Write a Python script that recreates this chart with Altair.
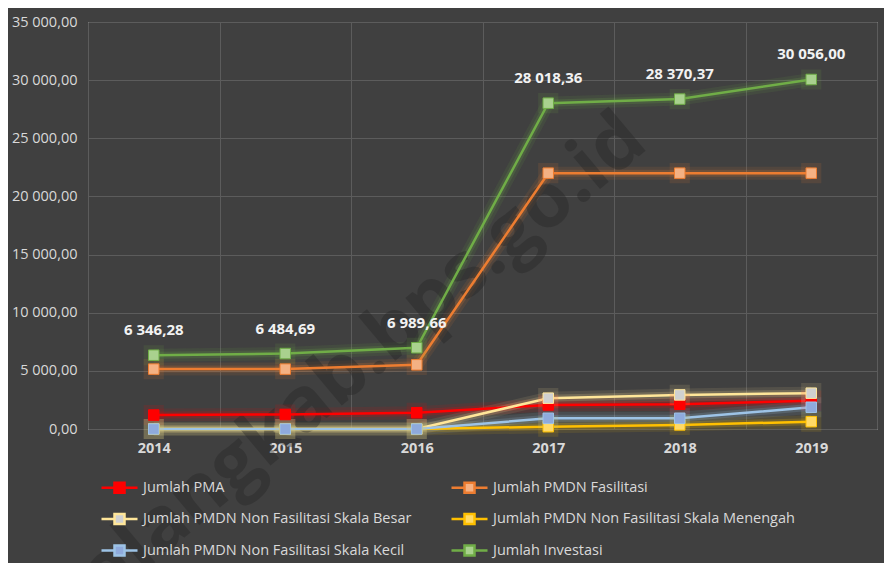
import altair as alt
import pandas as pd

years = ["2014", "2015", "2016", "2017", "2018", "2019"]
series = [
    "Jumlah PMA",
    "Jumlah PMDN Fasilitasi",
    "Jumlah PMDN Non Fasilitasi Skala Besar",
    "Jumlah PMDN Non Fasilitasi Skala Menengah",
    "Jumlah PMDN Non Fasilitasi Skala Kecil",
    "Jumlah Investasi",
]
pma = [1200, 1250, 1400, 2070, 2130, 2440]
pmdn_fasilitasi = [5150, 5150, 5520, 22000, 22000, 22000]
skala_besar = [0, 0, 0, 2650, 2930, 3080]
skala_menengah = [0, 0, 0, 200, 350, 630]
skala_kecil = [0, 0, 0, 920, 920, 1870]
investasi = [6346.28, 6484.69, 6989.66, 28018.36, 28370.37, 30056.00]
y_ticks = [0, 5000, 10000, 15000, 20000, 25000, 30000, 35000]
watermark = ["malangkab.bps.go.id"]

line_colors = ["#FF0000", "#ED7D31", "#FFE699", "#FFC000", "#9DC3E6", "#70AD47"]
marker_colors = ["#FF0000", "#F4B183", "#D0D0D0", "#FFD966", "#8FAADC", "#A9D18E"]

values = [pma, pmdn_fasilitasi, skala_besar, skala_menengah, skala_kecil, investasi]
rows = []
for s, vals in zip(series, values):
    for yr, v in zip(years, vals):
        rows.append({"Seri": s, "Tahun": yr, "Nilai": v})
df = pd.DataFrame(rows)
df_inv = pd.DataFrame({"Tahun": years, "Nilai": investasi})

TXT = "#D9D9D9"
FONT = "Open Sans"

x_enc = alt.X(
    "Tahun:N",
    bandPosition=0.5,
    sort=years,
    scale=alt.Scale(type="band", paddingInner=0, paddingOuter=0, domain=years),
    axis=alt.Axis(
        title=None, labelAngle=0, domain=False, ticks=False, grid=True,
        tickBand="extent", gridColor="#5C5C5C", gridWidth=1,
        labelColor=TXT, labelFont=FONT, labelFontSize=14.5, labelFontWeight="bold",
        labelPadding=12,
    ),
)
y_enc = alt.Y(
    "Nilai:Q",
    scale=alt.Scale(domain=[0, 35000], nice=False),
    axis=alt.Axis(
        title=None, values=y_ticks, format=",.2f", domain=False, ticks=False,
        gridColor="#5C5C5C", gridWidth=1, labelColor=TXT, labelFont=FONT,
        labelFontSize=14.5, labelPadding=11,
    ),
)

stroke_scale = alt.Scale(domain=series, range=line_colors)
fill_scale = alt.Scale(domain=series, range=marker_colors)

legend = alt.Legend(
    title=None, orient="none", legendX=20, legendY=454, columns=2,
    direction="horizontal",
    symbolType="M-1.8,0H-0.5M0.5,0H1.8M-0.5,-0.5H0.5V0.5H-0.5Z",
    symbolSize=400, symbolStrokeWidth=2.5, symbolOpacity=1,
    labelColor=TXT, labelFont=FONT, labelFontSize=14.5, labelLimit=400,
    labelOffset=12, rowPadding=9.5, columnPadding=34,
)

stroke_enc = alt.Stroke("Seri:N", scale=stroke_scale, legend=legend)

base = alt.Chart(df).encode(x=x_enc, y=y_enc)

glow_wide = base.mark_line(strokeWidth=13, opacity=0.10).encode(stroke=stroke_enc)
glow = base.mark_line(strokeWidth=7, opacity=0.18).encode(stroke=stroke_enc)
lines = base.mark_line(strokeWidth=2.5).encode(stroke=stroke_enc)
pts_glow = base.mark_point(shape="square", filled=False, size=200, strokeWidth=6, opacity=0.12).encode(
    stroke=stroke_enc,
)
pts = base.mark_point(shape="square", filled=True, size=110, opacity=1, strokeWidth=1).encode(
    fill=alt.Fill("Seri:N", scale=fill_scale, legend=legend),
    stroke=stroke_enc,
)

labels = alt.Chart(df_inv).mark_text(
    dy=-25, font=FONT, fontSize=15, fontWeight="bold", color="#F2F2F2"
).encode(
    x=alt.X("Tahun:N", bandPosition=0.5, sort=years),
    y="Nilai:Q",
    text=alt.Text("Nilai:Q", format=",.2f"),
)

wm = alt.Chart(pd.DataFrame({"t": watermark})).mark_text(
    angle=320, font=FONT, fontSize=76, fontWeight="bold", color="#262626", opacity=0.4,
    dx=-89, dy=-21,
).encode(
    x=alt.X(datum="2016", type="nominal", bandPosition=0.5),
    y=alt.Y(datum=7650, type="quantitative"),
    text="t:N",
)

chart = alt.layer(glow_wide, glow, wm, lines, pts_glow, pts, labels).properties(
    width=789, height=407,
    autosize=alt.AutoSizeParams(type="none"),
    padding={"left": 80, "top": 14, "right": 7, "bottom": 134},
    background="#404040",
).configure_view(stroke=None).configure(
    locale=alt.Locale(number=alt.NumberLocale(decimal=",", thousands=" ", grouping=[3], currency=["", ""]))
)

chart.save("out.html", embed_options={"renderer": "svg", "actions": False})
